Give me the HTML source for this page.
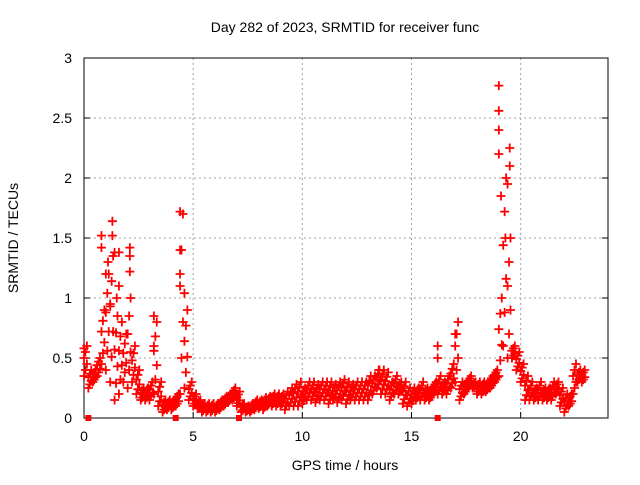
<!DOCTYPE html>
<html><head><meta charset="utf-8"><style>
html,body{margin:0;padding:0;background:#fff}
svg text{font-family:"Liberation Sans",sans-serif;font-size:14px;fill:#000}
</style></head><body>
<svg id="chart" width="640" height="480" xmlns="http://www.w3.org/2000/svg">
<text x="345" y="32" text-anchor="middle">Day 282 of 2023, SRMTID for receiver func</text>
<text x="345" y="470" text-anchor="middle">GPS time / hours</text>
<text transform="translate(18,238) rotate(-90)" text-anchor="middle">SRMTID / TECUs</text>
<g id="grid"></g><g id="axes"></g><g id="marks"></g>
</svg>
<script>
const xTicks=[0,5,10,15,20];
const yTicks=[0,0.5,1,1.5,2,2.5,3];
const yTickLabels=["0","0.5","1","1.5","2","2.5","3"];
const step=0.2;
const lowVals=[.35,.25,.3,.35,.45,.4,.3,.15,.2,.3,.25,.3,.2,.15,.15,.15,.2,.1,.05,.07,.07,.1,.2,.25,.15,.1,.08,.05,.05,.05,.05,.07,.1,.13,.15,.1,.05,.05,.05,.07,.08,.07,.1,.1,.1,.1,.07,.1,.1,.1,.12,.15,.15,.13,.15,.15,.12,.15,.13,.15,.12,.15,.15,.15,.15,.15,.2,.25,.2,.2,.15,.2,.2,.12,.1,.12,.15,.15,.15,.15,.2,.2,.2,.2,.25,.3,.15,.2,.25,.25,.2,.2,.22,.25,.3,.35,.6,.5,.5,.4,.3,.15,.15,.15,.15,.15,.15,.15,.2,.1,.05,.1,.2,.3,.3];
const highVals=[.6,.4,.4,.5,.9,1.2,1.35,.85,.8,.7,1.0,.6,.4,.25,.25,.3,.8,.3,.15,.15,.15,.2,1.7,.9,.3,.2,.15,.12,.12,.12,.12,.15,.18,.2,.25,.22,.12,.1,.12,.15,.15,.17,.18,.2,.2,.2,.22,.25,.28,.3,.25,.3,.3,.28,.3,.3,.3,.28,.3,.32,.3,.28,.3,.3,.3,.35,.35,.4,.4,.38,.3,.35,.3,.3,.25,.25,.25,.3,.25,.25,.3,.35,.3,.35,.45,.8,.3,.3,.35,.3,.3,.3,.3,.35,.4,1.0,2.0,1.5,.6,.55,.45,.35,.3,.25,.3,.25,.25,.3,.3,.25,.2,.2,.45,.4,.4];
const spikeTimes=[0.8,0.8,1.0,1.1,1.3,1.3,1.4,1.6,1.6,2.1,2.1,2.1,1.2,1.5,4.4,4.4,4.4,4.6,19.0,19.0,19.0,19.0,19.1,19.3,19.5,19.5,19.4,16.2,16.2,17.0,13.5,0.0,3.2,3.2];
const spikeVals=[1.52,1.42,1.2,1.3,1.64,1.52,1.38,1.38,1.1,1.42,1.35,1.22,0.95,1.0,1.72,1.4,1.2,1.04,2.77,2.56,2.4,2.2,1.85,1.5,2.25,2.1,1.95,0.6,0.5,0.7,0.4,0.58,0.85,0.6];
const zeroTimes=[0.2,4.2,7.1,16.2];
const X0=84,X1=608,Y0=418,Y1=58,XMAX=24,YMAX=3;
const xs=t=>X0+(X1-X0)*t/XMAX, ys=v=>Y0-(Y0-Y1)*v/YMAX;
const NS="http://www.w3.org/2000/svg";
function mk(tag,attrs,parent){const e=document.createElementNS(NS,tag);for(const k in attrs)e.setAttribute(k,attrs[k]);parent.appendChild(e);return e;}
const grid=document.getElementById('grid'),axes=document.getElementById('axes'),marks=document.getElementById('marks');
xTicks.forEach(t=>{
 if(t>0){const g=mk('line',{x1:xs(t),x2:xs(t),y1:Y1,y2:Y0,stroke:'#a0a0a0','stroke-dasharray':'2,3'},grid);
 
 }
 const tk=mk('line',{x1:xs(t),x2:xs(t),y1:Y0,y2:Y0-6,stroke:'#000'},axes);
 
 
 const tx=mk('text',{x:xs(t),y:Y0+23,'text-anchor':'middle'},axes);tx.textContent=String(t);
 
 
});
yTicks.forEach((v,i)=>{
 if(v>0&&v<YMAX){const g=mk('line',{x1:X0,x2:X1,y1:ys(v),y2:ys(v),stroke:'#a0a0a0','stroke-dasharray':'2,3'},grid);
 
 }
 const tk=mk('line',{x1:X0,x2:X0+6,y1:ys(v),y2:ys(v),stroke:'#000'},axes);
 
 
 const tk2=mk('line',{x1:X1,x2:X1-6,y1:ys(v),y2:ys(v),stroke:'#000'},axes);
 
 
 const tx=mk('text',{x:X0-12,y:ys(v)+5,'text-anchor':'end'},axes);tx.textContent=yTickLabels[i];
 
 
});
const frame=mk('rect',{x:X0,y:Y1,width:X1-X0,height:Y0-Y1,fill:'none',stroke:'#000'},axes);


function plus(t,v,name){
 const x=xs(t),y=ys(v);
 const p=mk('path',{d:`M${x-4.5},${y}H${x+4.5}M${x},${y-4.5}V${y+4.5}`,stroke:'#ff0000','stroke-width':1.8,fill:'none'},marks);
 
 
}
const fracs=[0,0.2,0.4,0.6,0.8,1];
lowVals.forEach((lo,i)=>{
 const hi=highVals[i];
 fracs.forEach((f,k)=>{
  const t=i*step+(k%3)*step/3;
  plus(t,lo+(hi-lo)*f,'data-point');
 });
});
spikeTimes.forEach((t,i)=>plus(t,spikeVals[i],'point-spike'));
zeroTimes.forEach(t=>{
 const r=mk('rect',{x:xs(t)-3,y:Y0-3,width:6,height:6,fill:'#ff0000'},marks);
 
 
});
</script>
</body></html>
